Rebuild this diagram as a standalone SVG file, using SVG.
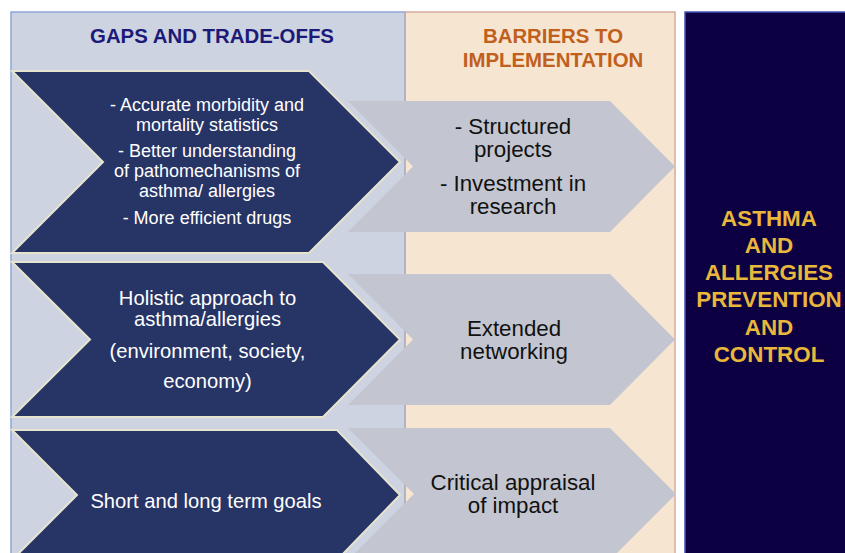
<svg xmlns="http://www.w3.org/2000/svg" width="845" height="553" viewBox="0 0 845 553">
<style>
.dark{fill:#273466;stroke:#E6E3CF;stroke-width:2;stroke-linejoin:miter}
.gray{fill:#C3C6D0;stroke:none}
.wt{font-family:"Liberation Sans",Arial,sans-serif;fill:#FFFFFF;text-anchor:middle}
.bt{font-family:"Liberation Sans",Arial,sans-serif;fill:#111111;text-anchor:middle;font-size:22.3px}
.hd{font-family:"Liberation Sans",Arial,sans-serif;font-weight:bold;font-size:20.4px;text-anchor:middle}
.gold{font-family:"Liberation Sans",Arial,sans-serif;font-weight:bold;font-size:22.4px;fill:#E8B73B;text-anchor:middle}
</style>
<rect x="0" y="0" width="845" height="553" fill="#FFFFFF"/>
<g id="panels">
  <g id="panel-gaps">
    <rect x="11" y="12" width="394" height="545" fill="#CDD3E0" stroke="#8FA5DC" stroke-width="1.5"/>
    <text class="hd" x="212" y="42.5" fill="#1C1A78">GAPS AND TRADE-OFFS</text>
  </g>
  <g id="panel-barriers">
    <rect x="405" y="12" width="270" height="545" fill="#F6E5D1" stroke="#D6ABA2" stroke-width="1.5"/>
    <line x1="405" y1="12" x2="405" y2="553" stroke="#A9B3C8" stroke-width="1.5"/>
    <text class="hd" x="553" y="42.5" fill="#C0601C">BARRIERS TO</text>
    <text class="hd" x="553" y="66.5" fill="#C0601C">IMPLEMENTATION</text>
  </g>
  <g id="panel-goal">
    <rect x="685" y="12" width="170" height="545" fill="#0C0042" stroke="#4454B8" stroke-width="1.5"/>
    <text class="gold" x="769" y="226">ASTHMA</text>
    <text class="gold" x="769" y="253">AND</text>
    <text class="gold" x="769" y="280">ALLERGIES</text>
    <text class="gold" x="769" y="307">PREVENTION</text>
    <text class="gold" x="769" y="335">AND</text>
    <text class="gold" x="769" y="362">CONTROL</text>
  </g>
</g>
<g id="barrier-1">
  <polygon class="gray" points="348,101 610,101 675,166.5 610,232 348,232 413,166.5"/>
  <text class="bt" x="513" y="134">- Structured</text>
  <text class="bt" x="513" y="157">projects</text>
  <text class="bt" x="513" y="191">- Investment in</text>
  <text class="bt" x="513" y="214">research</text>
</g>
<g id="barrier-2">
  <polygon class="gray" points="348,274 610,274 675,339.5 610,405 348,405 413,339.5"/>
  <text class="bt" x="514" y="336">Extended</text>
  <text class="bt" x="514" y="359">networking</text>
</g>
<g id="barrier-3">
  <polygon class="gray" points="348,428 610,428 676,494 610,560 348,560 414,494"/>
  <text class="bt" x="513" y="490">Critical appraisal</text>
  <text class="bt" x="513" y="513">of impact</text>
</g>
<g id="gap-1">
  <polygon class="dark" points="12,71 309,71 400,162 309,253 12,253 103,162"/>
  <g class="wt" font-size="18">
    <text x="207" y="111">- Accurate morbidity and</text>
    <text x="207" y="131">mortality statistics</text>
    <text x="207" y="157">- Better understanding</text>
    <text x="207" y="177">of pathomechanisms of</text>
    <text x="207" y="197">asthma/ allergies</text>
    <text x="207" y="224">- More efficient drugs</text>
  </g>
</g>
<g id="gap-2">
  <polygon class="dark" points="12,262 323,262 400,339.5 323,417 12,417 90,339.5"/>
  <g class="wt" font-size="20.2">
    <text x="207.5" y="305">Holistic approach to</text>
    <text x="207.5" y="326">asthma/allergies</text>
    <text x="207.5" y="358">(environment, society,</text>
    <text x="207.5" y="388">economy)</text>
  </g>
</g>
<g id="gap-3">
  <polygon class="dark" points="12,430 337,430 400,495 337,560 12,560 77,495"/>
  <text class="wt" font-size="20.2" x="206" y="508">Short and long term goals</text>
</g>
<g id="connectors"/>
</svg>
